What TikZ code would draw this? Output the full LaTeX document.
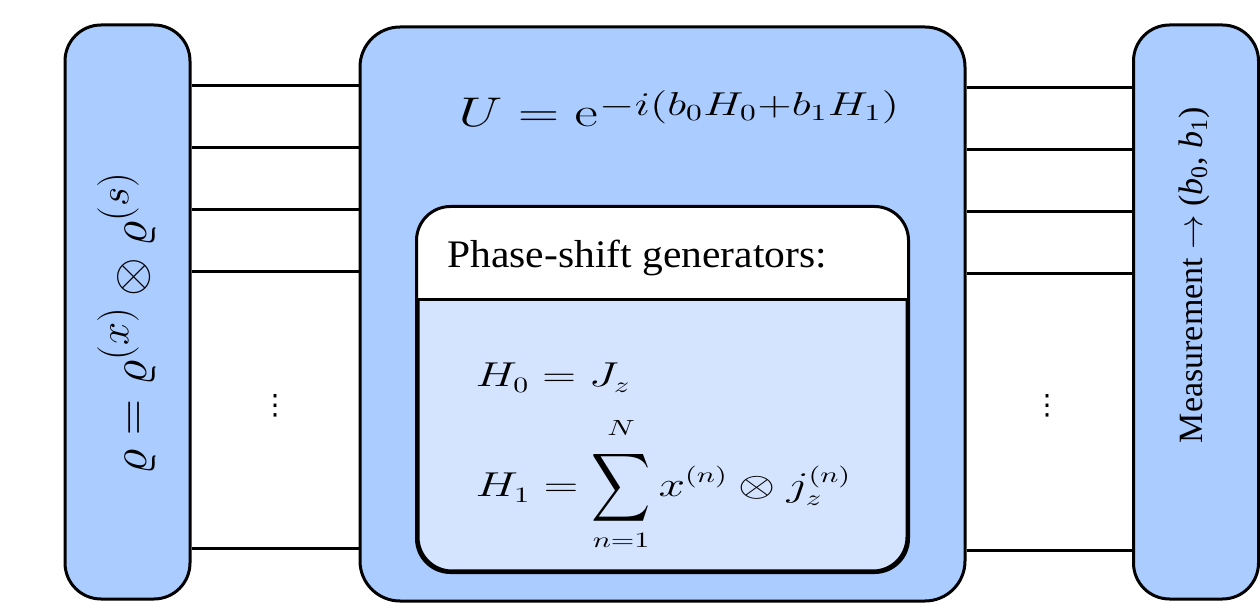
\documentclass[tikz,border=0pt]{standalone}
\usepackage[no-math]{fontspec}
\setmainfont{Liberation Serif}
\newfontfamily\symfont{DejaVu Sans}
\usepackage{amsmath}
\usepackage{graphicx}
\definecolor{boxblue}{RGB}{170,204,255}
\definecolor{paleblue}{RGB}{212,228,255}
\begin{document}
\begin{tikzpicture}[x=0.5pt,y=-0.5pt,line width=1.5pt,
  sidebox/.style={draw=black,fill=boxblue,rounded corners=18pt,inner sep=0pt,minimum width=62.5pt,minimum height=287pt},
  bigbox/.style={draw=black,fill=boxblue,rounded corners=20pt,inner sep=0pt,minimum width=302.5pt,minimum height=287pt},
  innerbox/.style={draw=black,fill=paleblue,rounded corners=17pt,inner sep=0pt,minimum width=244.5pt,minimum height=181.5pt},
  wire/.style={draw=black,line width=1.5pt},
  txt/.style={inner sep=0pt,anchor=base west},
  dotsnode/.style={inner sep=0pt,font=\symfont\fontsize{14}{16}\selectfont}]
\useasboundingbox (0,0) rectangle (1260,604);
% boxes
\node[sidebox] (L) at (127.5,312) {};
\node[bigbox] (M) at (662.5,314) {};
\node[sidebox] (R) at (1196,312) {};
\node[innerbox] (I) at (662.5,389.5) {};
% white header of inner box
\fill[white,rounded corners=17pt] (I.west |- 0,300) -- (I.north west) -- (I.north east) [sharp corners] -- (I.east |- 0,300) -- cycle;
\draw[rounded corners=17pt] (I.south west) rectangle (I.north east);
\coordinate (dl) at (I.west |- 0,300);
\coordinate (dr) at (I.east |- 0,300);
\draw (dl) -- (dr);
% wires left
\foreach \y in {86,148,210,272,549}{
  \coordinate (la\y) at (L.east |- 0,\y);
  \coordinate (lb\y) at (M.west |- 0,\y);
  \draw[wire] (la\y) -- (lb\y);
}
% wires right
\foreach \y in {88,150,212,274,551}{
  \coordinate (ra\y) at (M.east |- 0,\y);
  \coordinate (rb\y) at (R.west |- 0,\y);
  \draw[wire] (ra\y) -- (rb\y);
}
% dots
\node[dotsnode] (d1) at (275,406) {⋮};
\node[dotsnode] (d2) at (1047,406) {⋮};
% texts
\node[rotate=90,anchor=base,inner sep=0pt] (rho) at (146.5,323) {\fontsize{27.5}{31}\selectfont$\varrho = \varrho^{(x)} \otimes \varrho^{(s)}$};
\node[rotate=90,anchor=base,inner sep=0pt] (meas) at (1202,275) {\fontsize{17}{20}\selectfont Measurement $\rightarrow$ (\textit{b}\textsubscript{0}, \textit{b}\textsubscript{1})};
\node[txt] (U) at (457,127) {\fontsize{20}{24}\selectfont\scalebox{1.37}[1]{$U=\mathrm{e}$}\hspace{1pt}\raisebox{5.5pt}{\scalebox{1.57}[1.15]{$\scriptstyle -i(b_0H_0+b_1H_1)$}}};
\node[txt] (ph) at (446,268) {\scalebox{1.065}[1]{\fontsize{19.5}{23}\selectfont Phase-shift generators:}};
\node[txt] (h0) at (474,387) {\scalebox{1.35}[1]{\fontsize{16}{19}\selectfont$H_0 = J_z$}};
\node[txt] (h1) at (474,497) {\scalebox{1.38}[1]{\fontsize{16}{19}\selectfont$\displaystyle H_1 = \mathop{\vcenter{\hbox{\scalebox{0.86}[1.38]{$\displaystyle\sum$}}}}\limits_{n=1}^{\raisebox{4pt}{$\scriptstyle N$}} x^{(n)} \otimes j_z^{(n)}$}};
\end{tikzpicture}
\end{document}
